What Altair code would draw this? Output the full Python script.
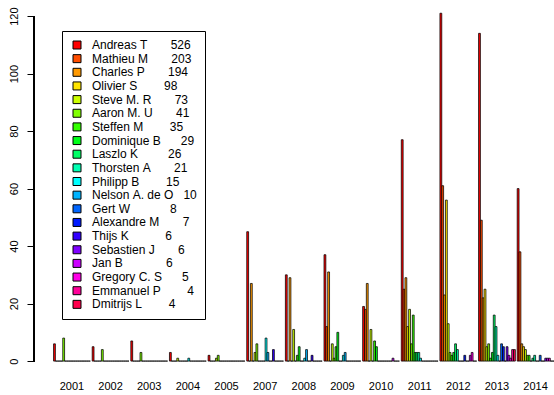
import altair as alt
import pandas as pd

# Contributors in plotting order, with their total commit counts
names = ["Andreas T", "Mathieu M", "Charles P", "Olivier S", "Steve M. R",
         "Aaron M. U", "Steffen M", "Dominique B", "Laszlo K", "Thorsten A",
         "Philipp B", "Nelson A. de O", "Gert W", "Alexandre M", "Thijs K",
         "Sebastien J", "Jan B", "Gregory C. S", "Emmanuel P", "Dmitrijs L"]
totals = [526, 203, 194, 98, 73, 41, 35, 29, 26, 21, 15, 10, 8, 7, 6, 6, 6, 5, 4, 4]

# rainbow(20) palette
colors = ["#FF0000", "#FF4D00", "#FF9900", "#FFE500", "#CCFF00", "#80FF00",
          "#33FF00", "#00FF19", "#00FF66", "#00FFB2", "#00FFFF", "#00B3FF",
          "#0066FF", "#001AFF", "#3300FF", "#7F00FF", "#CC00FF", "#FF00E6",
          "#FF0099", "#FF004D"]

years = ["2001", "2002", "2003", "2004", "2005", "2007", "2008",
         "2009", "2010", "2011", "2012", "2013", "2014"]

# commits per contributor (same order as names), one list per year
c2001 = [6, 0, 0, 0, 0, 8, 0, 0, 0, 0, 0, 0, 0, 0, 0, 0, 0, 0, 0, 0]
c2002 = [5, 0, 0, 0, 0, 4, 0, 0, 0, 0, 0, 0, 0, 0, 0, 0, 0, 0, 0, 0]
c2003 = [7, 0, 0, 0, 0, 3, 0, 0, 0, 0, 0, 0, 0, 0, 0, 0, 0, 0, 0, 0]
c2004 = [3, 0, 0, 0, 1, 0, 0, 0, 0, 0, 1, 0, 0, 0, 0, 0, 0, 0, 0, 0]
c2005 = [2, 0, 0, 0, 1, 2, 0, 0, 0, 0, 0, 0, 0, 0, 0, 0, 0, 0, 0, 0]
c2007 = [45, 0, 27, 0, 3, 6, 0, 0, 0, 0, 8, 3, 0, 0, 4, 0, 0, 0, 0, 0]
c2008 = [30, 0, 29, 0, 11, 0, 2, 5, 0, 0, 1, 4, 0, 0, 2, 0, 0, 0, 0, 0]
c2009 = [37, 12, 31, 0, 6, 1, 5, 10, 0, 0, 2, 3, 0, 0, 0, 0, 0, 0, 0, 0]
c2010 = [19, 18, 27, 0, 11, 0, 7, 5, 0, 0, 0, 0, 0, 0, 0, 0, 1, 0, 0, 0]
c2011 = [77, 25, 29, 12, 18, 6, 16, 3, 3, 3, 1, 0, 0, 0, 0, 0, 0, 0, 0, 0]
c2012 = [121, 61, 23, 56, 13, 3, 2, 3, 6, 4, 0, 0, 0, 2, 0, 0, 2, 3, 0, 0]
c2013 = [114, 49, 22, 25, 5, 6, 1, 3, 16, 12, 2, 0, 6, 5, 0, 5, 2, 1, 4, 4]
c2014 = [60, 38, 6, 5, 4, 2, 2, 0, 1, 2, 0, 0, 2, 0, 0, 1, 1, 1, 0, 0]

per_year = [c2001, c2002, c2003, c2004, c2005, c2007, c2008,
            c2009, c2010, c2011, c2012, c2013, c2014]

# legend labels: name padded to 15 chars, count right-aligned in 4
labels = [f"{n:<15}{t:>4}".replace(" ", "\u00a0") for n, t in zip(names, totals)]

rows = []
for yr, vals in zip(years, per_year):
    for lab, v in zip(labels, vals):
        rows.append({"year": yr, "who": lab, "commits": v})
df = pd.DataFrame(rows)

FONT = "Liberation Sans"

yscale = alt.Scale(domain=[-4.84, 125.6], nice=False, zero=False)

bars = alt.Chart(df).mark_bar(stroke="black", strokeWidth=0.75).encode(
    x=alt.X("year:N", sort=years,
            scale=alt.Scale(paddingInner=1 / 21, paddingOuter=0.253, align=1),
            axis=alt.Axis(title=None, domain=False, ticks=False, labelAngle=0,
                          labelPadding=5, labelFont=FONT, labelFontSize=11,
                          labelColor="black")),
    xOffset=alt.XOffset("who:N", sort=labels,
                        scale=alt.Scale(paddingInner=0, paddingOuter=0)),
    y=alt.Y("commits:Q", scale=yscale, stack=None,
            axis=alt.Axis(title=None, values=[0, 20, 40, 60, 80, 100, 120],
                          domain=False, grid=False, tickSize=7, tickColor="black",
                          labelAngle=270, labelAlign="center",
                          labelBaseline="alphabetic", labelPadding=10,
                          labelFont=FONT, labelFontSize=11, labelColor="black")),
    color=alt.Color("who:N", sort=labels,
                    scale=alt.Scale(domain=labels, range=colors),
                    legend=alt.Legend(title=None, orient="none", legendX=28,
                                      legendY=31, strokeColor="black",
                                      fillColor="white", padding=8,
                                      symbolType="square", symbolSize=64,
                                      symbolStrokeColor="black",
                                      symbolStrokeWidth=1, symbolOffset=1,
                                      labelOffset=9, rowPadding=1.65,
                                      labelFont=FONT, labelFontSize=12,
                                      labelColor="black", labelLimit=250)),
)

# y axis line spanning only the labelled range
axis_line = alt.Chart(df).mark_rule(color="black", strokeWidth=1).encode(
    x=alt.value(0), y=alt.datum(0), y2=alt.datum(120)
)

chart = alt.layer(bars, axis_line).properties(
    width=520, height=375,
    autosize=alt.AutoSizeParams(type="none"),
    padding={"left": 34, "top": 0, "right": 0, "bottom": 20},
    background="white",
).configure_view(stroke=None)

chart.save("out.html", embed_options={"renderer": "svg", "actions": False})
